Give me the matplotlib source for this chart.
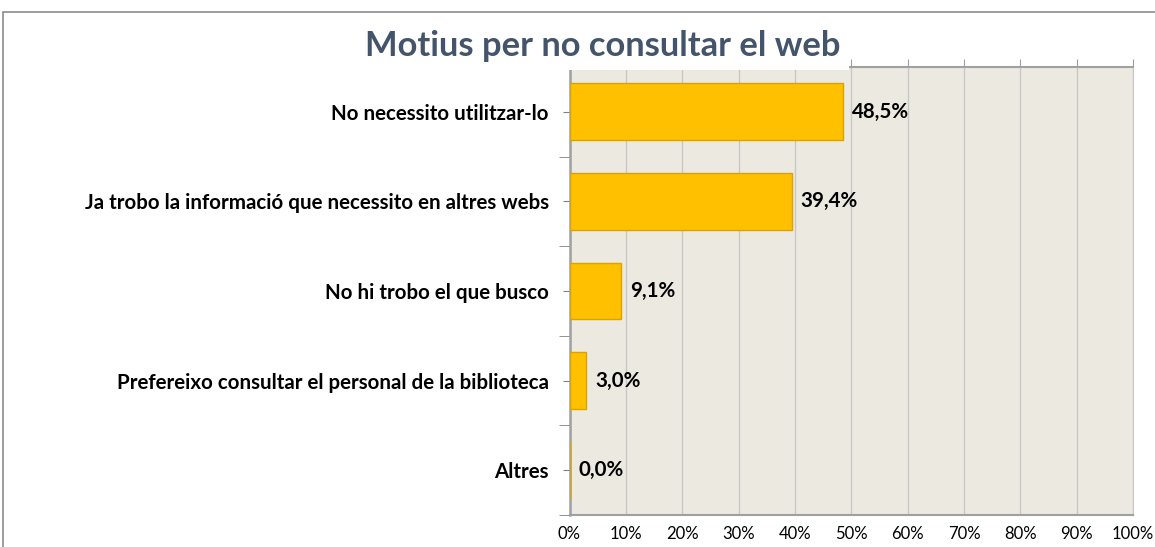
import matplotlib.pyplot as plt
from matplotlib.patches import Rectangle

categories = ['No necessito utilitzar-lo',
              'Ja trobo la informació que necessito en altres webs',
              'No hi trobo el que busco',
              'Prefereixo consultar el personal de la biblioteca',
              'Altres']
values = [48.5, 39.4, 9.1, 3.0, 0.0]
value_labels = ['48,5%', '39,4%', '9,1%', '3,0%', '0,0%']
xticks = [0, 10, 20, 30, 40, 50, 60, 70, 80, 90, 100]

plt.rcParams['font.family'] = ['Lato', 'DejaVu Sans']

W, H = 1155, 547
fig = plt.figure(figsize=(11.55, 5.47), dpi=100)
# outer chart frame
fig.patches.append(Rectangle((3 / W, -0.1), 1.2, 1 - 12 / H + 0.1,
                             transform=fig.transFigure, fill=False,
                             edgecolor='#8c8c8c', linewidth=1.2, zorder=0))
ax = fig.add_axes([569.5 / W, 1 - 515 / H, (1133 - 569.5) / W, (515 - 67) / H])
ax.set_facecolor('#ECE9E0')

y = list(range(len(categories)))
ax.barh(y, values, height=0.635, color='#FFC000', edgecolor='#D9A300', linewidth=1, zorder=3)
for yi, v, lab in zip(y, values, value_labels):
    ax.text(v + 1.6, yi, lab, va='center', ha='left', fontsize=14.8, fontweight='bold', color='black')

ax.set_xlim(0, 100)
ax.set_ylim(len(categories) - 0.5, -0.5)
ax.set_xticks(xticks)
ax.set_xticklabels([f'{t}%' for t in xticks], fontsize=12)
ax.tick_params(axis='x', top=True, bottom=False, labeltop=False, labelbottom=True,
               length=6, color='#A0A0A0', pad=2)
ax.xaxis.grid(True, color='#C8C8C8', linewidth=1, zorder=0)

ax.set_yticks(y)
ax.set_yticklabels(categories, fontsize=14.8, fontweight='bold')
ax.set_yticks([i - 0.5 for i in range(len(categories) + 1)], minor=True)
ax.tick_params(axis='y', which='major', length=5, color='#808080', pad=10)
ax.tick_params(axis='y', which='minor', length=8, color='#808080')

ax.spines['right'].set_color('#C8C8C8')
ax.spines['top'].set_color('#A0A0A0')
ax.spines['top'].set_linewidth(1.5)
ax.spines['left'].set_color('#A0A0A0')
ax.spines['left'].set_linewidth(1.8)
ax.spines['bottom'].set_color('#A0A0A0')
ax.spines['bottom'].set_linewidth(1.5)

# white title box overlapping the top of the plot area
ax.add_patch(Rectangle((355 / W, 1 - 70 / H), (849 - 355) / W, 50 / H,
                       transform=fig.transFigure, facecolor='white',
                       edgecolor='none', zorder=10, clip_on=False))
ax.text(0.522, 1 - 46 / H, 'Motius per no consultar el web', transform=fig.transFigure,
        ha='center', va='center', fontsize=24.8, fontweight='bold', color='#44546A',
        zorder=11, clip_on=False)

fig.savefig('out.png', dpi=100)
